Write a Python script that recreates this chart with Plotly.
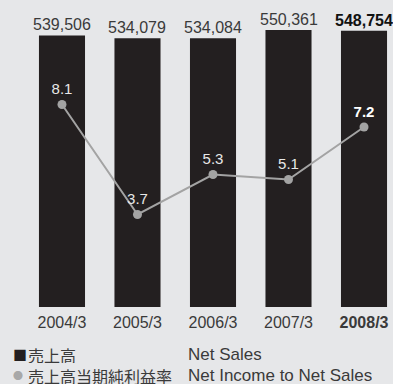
import plotly.graph_objects as go

# data
years = ["2004/3", "2005/3", "2006/3", "2007/3", "2008/3"]
net_sales = [539506, 534079, 534084, 550361, 548754]
ratio = [8.1, 3.7, 5.3, 5.1, 7.2]

BG = "#e6e7e9"
BAR = "#231f20"
LINE = "#a3a3a3"
TXT = "#3a3a3a"
EN_FONT = "Liberation Sans, Arial, sans-serif"
JP_FONT = "Noto Sans CJK JP, sans-serif"

idx = list(range(len(years)))
last = len(years) - 1


def fmt(v, bold):
    s = f"{v:,}" if isinstance(v, int) else f"{v}"
    return f"<b>{s}</b>" if bold else s


fig = go.Figure()

fig.add_trace(go.Bar(
    x=idx, y=net_sales, width=0.61,
    marker=dict(color=BAR, line=dict(width=0)),
    yaxis="y", showlegend=False, hoverinfo="skip"))

fig.add_trace(go.Scatter(
    x=idx, y=ratio, yaxis="y2", mode="lines+markers+text",
    line=dict(color=LINE, width=2),
    marker=dict(color=LINE, size=9),
    text=[fmt(v, i == last) for i, v in enumerate(ratio)],
    textposition="top center",
    textfont=dict(family=EN_FONT, size=15,
                  color=["#e8e8e8"] * last + ["#ffffff"]),
    cliponaxis=False, showlegend=False, hoverinfo="skip"))

# net sales labels above the bars
for i, v in enumerate(net_sales):
    fig.add_annotation(
        x=i, y=v, xref="x", yref="y", yanchor="bottom",
        text=fmt(v, i == last), showarrow=False, yshift=0,
        font=dict(family=EN_FONT, size=16, color="#111" if i == last else TXT))

# legend rows
legend = [
    ("■", BAR, 14, "売上高", "Net Sales", -47),
    ("●", "#a8a8a8", 10, "売上高当期純利益率", "Net Income to Net Sales", -68),
]
for sym, col, sz, jp, en, dy in legend:
    fig.add_annotation(x=0, y=0, xref="paper", yref="paper", xanchor="left",
                       yanchor="middle", xshift=12, yshift=dy, showarrow=False,
                       height=16, borderpad=0,
                       text=sym, font=dict(family=JP_FONT, size=sz, color=col))
    fig.add_annotation(x=0, y=0, xref="paper", yref="paper", xanchor="left",
                       yanchor="middle", xshift=27, yshift=dy, showarrow=False,
                       height=17, borderpad=0,
                       text=jp, font=dict(family=JP_FONT, size=16, color=TXT))
    fig.add_annotation(x=0, y=0, xref="paper", yref="paper", xanchor="left",
                       yanchor="middle", xshift=187, yshift=dy, showarrow=False,
                       height=17, borderpad=0,
                       text=en, font=dict(family=EN_FONT, size=17, color=TXT))

fig.update_layout(
    width=393, height=384,
    margin=dict(l=0, r=0, t=0, b=77),
    paper_bgcolor=BG, plot_bgcolor=BG,
    xaxis=dict(range=[-0.821, 4.384], tickmode="array", tickvals=idx,
               ticktext=[fmt(y, i == last) for i, y in enumerate(years)],
               showgrid=False, zeroline=False, showline=False, ticks="",
               ticklabelstandoff=4,
               tickfont=dict(family=EN_FONT, size=16, color=TXT)),
    yaxis=dict(range=[0, 610000], visible=False),
    yaxis2=dict(range=[0, 12.28], overlaying="y", visible=False),
)

# drop the browser's default 8px page margin so the chart fills the window
fig.write_html("out.html",
               config={"displayModeBar": False},
               post_script="document.body.style.margin='0';"
                           "document.body.style.overflow='hidden';")
